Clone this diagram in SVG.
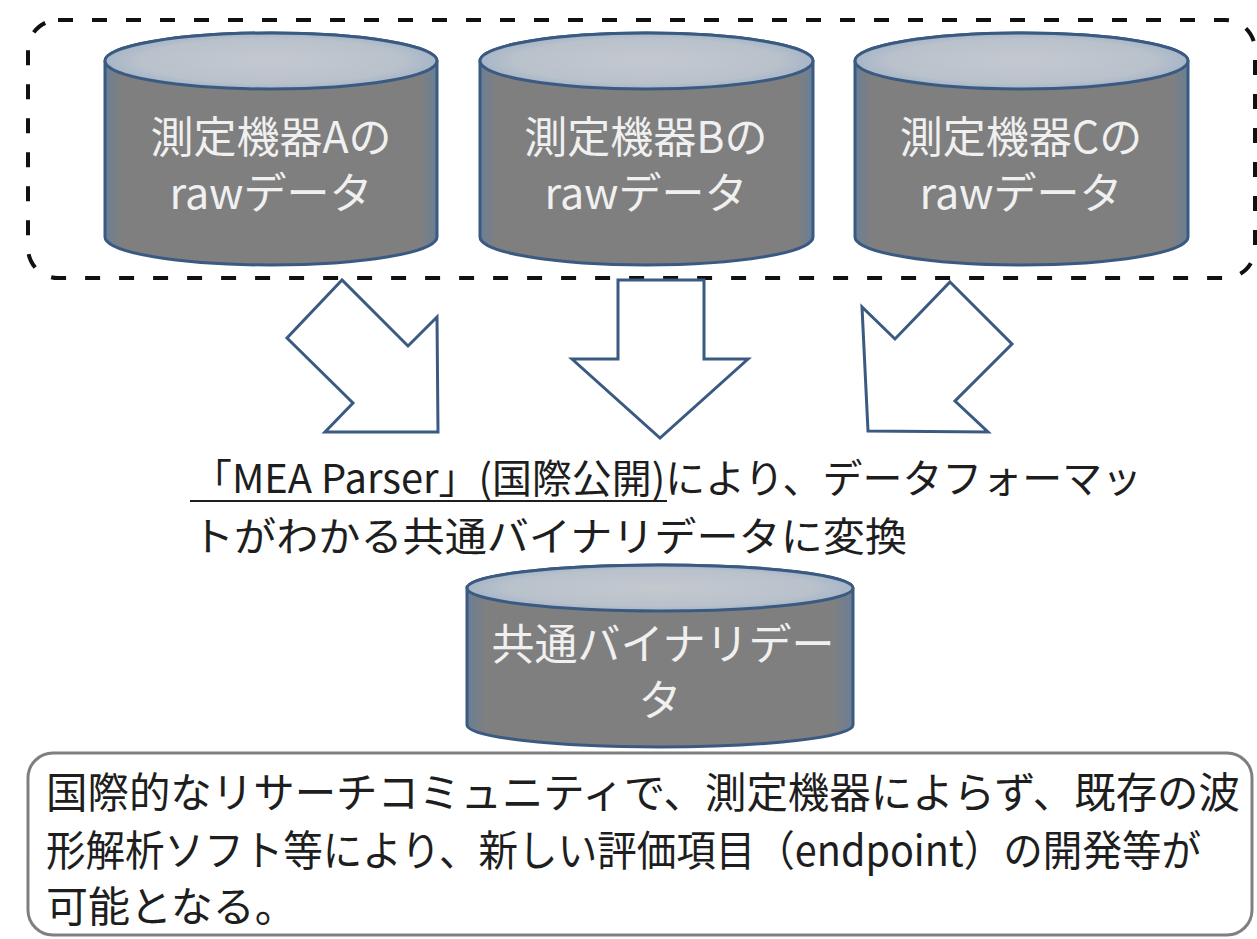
<svg xmlns="http://www.w3.org/2000/svg" width="1257" height="939" viewBox="0 0 1257 939">
<style>
  text { font-family: "Noto Sans CJK JP", "Liberation Sans", sans-serif; }
  .cyl-body { fill: url(#bodyGrad); stroke: #3b5a82; stroke-width: 3; }
  .cyl-top { fill: url(#topGrad); stroke: #3b5a82; stroke-width: 3; }
  .cyl-text { fill: #f0f0f0; font-size: 43px; text-anchor: middle; }
  .arrow { fill: #ffffff; stroke: #3b5a82; stroke-width: 3; stroke-linejoin: miter; }
  .dark { fill: #1e1e1e; }
</style>
<defs>
  <linearGradient id="bodyGrad" x1="0" y1="0" x2="1" y2="0">
    <stop offset="0" stop-color="#6a7f96"/>
    <stop offset="0.05" stop-color="#7f7f7f"/>
    <stop offset="0.95" stop-color="#7f7f7f"/>
    <stop offset="1" stop-color="#6a7f96"/>
  </linearGradient>
  <radialGradient id="topGrad" cx="0.5" cy="0.5" r="0.5">
    <stop offset="0" stop-color="#c4c9cf"/>
    <stop offset="0.8" stop-color="#b9c1cb"/>
    <stop offset="1" stop-color="#a6b6c8"/>
  </radialGradient>
</defs>

<rect id="group-frame" x="28" y="20" width="1227" height="258" rx="30" ry="30" fill="none" stroke="#111" stroke-width="4" stroke-dasharray="15 19"/>

<g id="cylA">
  <path class="cyl-body" d="M105,61 L105,237 A166,28 0 0 0 437,237 L437,61 A166,28 0 0 0 105,61 Z"/>
  <ellipse class="cyl-top" cx="271" cy="61" rx="166" ry="28"/>
  <text class="cyl-text" x="271" y="153">測定機器Aの</text>
  <text class="cyl-text" x="271" y="209">rawデータ</text>
</g>
<g id="cylB">
  <path class="cyl-body" d="M480,61 L480,237 A166.5,28 0 0 0 813,237 L813,61 A166.5,28 0 0 0 480,61 Z"/>
  <ellipse class="cyl-top" cx="646.5" cy="61" rx="166.5" ry="28"/>
  <text class="cyl-text" x="646" y="153">測定機器Bの</text>
  <text class="cyl-text" x="646" y="209">rawデータ</text>
</g>
<g id="cylC">
  <path class="cyl-body" d="M855,61 L855,237 A166.5,28 0 0 0 1188,237 L1188,61 A166.5,28 0 0 0 855,61 Z"/>
  <ellipse class="cyl-top" cx="1021.5" cy="61" rx="166.5" ry="28"/>
  <text class="cyl-text" x="1021" y="153">測定機器Cの</text>
  <text class="cyl-text" x="1021" y="209">rawデータ</text>
</g>

<g id="connectors">
  <polygon class="arrow" points="342,280 287,338 353,403 325,432 438,432 437,317 408,346"/>
  <polygon class="arrow" points="618,280 704,280 704,359 748,359 660,438 572,359 618,359"/>
  <polygon class="arrow" points="950,282 1012,344 955,401 988,432 868,431 862,307 895,339"/>
</g>

<g id="parser-label">
  <text class="dark" x="192" y="493" font-size="40" textLength="950" lengthAdjust="spacingAndGlyphs">「MEA Parser」(国際公開)により、データフォーマッ</text>
  <line x1="190" y1="501" x2="667" y2="501" stroke="#1e1e1e" stroke-width="2"/>
  <text class="dark" x="192" y="551" font-size="40" textLength="715" lengthAdjust="spacingAndGlyphs">トがわかる共通バイナリデータに変換</text>
</g>

<g id="cylCommon">
  <path class="cyl-body" d="M467,588 L467,725 A193,22 0 0 0 853,725 L853,588 A193,23 0 0 0 467,588 Z"/>
  <ellipse class="cyl-top" cx="660" cy="588" rx="193" ry="23"/>
  <text class="cyl-text" x="663" y="660">共通バイナリデー</text>
  <text class="cyl-text" x="660" y="716">タ</text>
</g>

<g id="result-box">
  <rect x="28" y="753" width="1224" height="182" rx="25" ry="25" fill="#ffffff" stroke="#7f7f7f" stroke-width="3"/>
  <text class="dark" x="46" y="808" font-size="42" textLength="1194" lengthAdjust="spacingAndGlyphs">国際的なリサーチコミュニティで、測定機器によらず、既存の波</text>
  <text class="dark" x="46" y="866" font-size="42" textLength="1155" lengthAdjust="spacingAndGlyphs">形解析ソフト等により、新しい評価項目（endpoint）の開発等が</text>
  <text class="dark" x="46" y="922" font-size="42">可能となる。</text>
</g>
</svg>
